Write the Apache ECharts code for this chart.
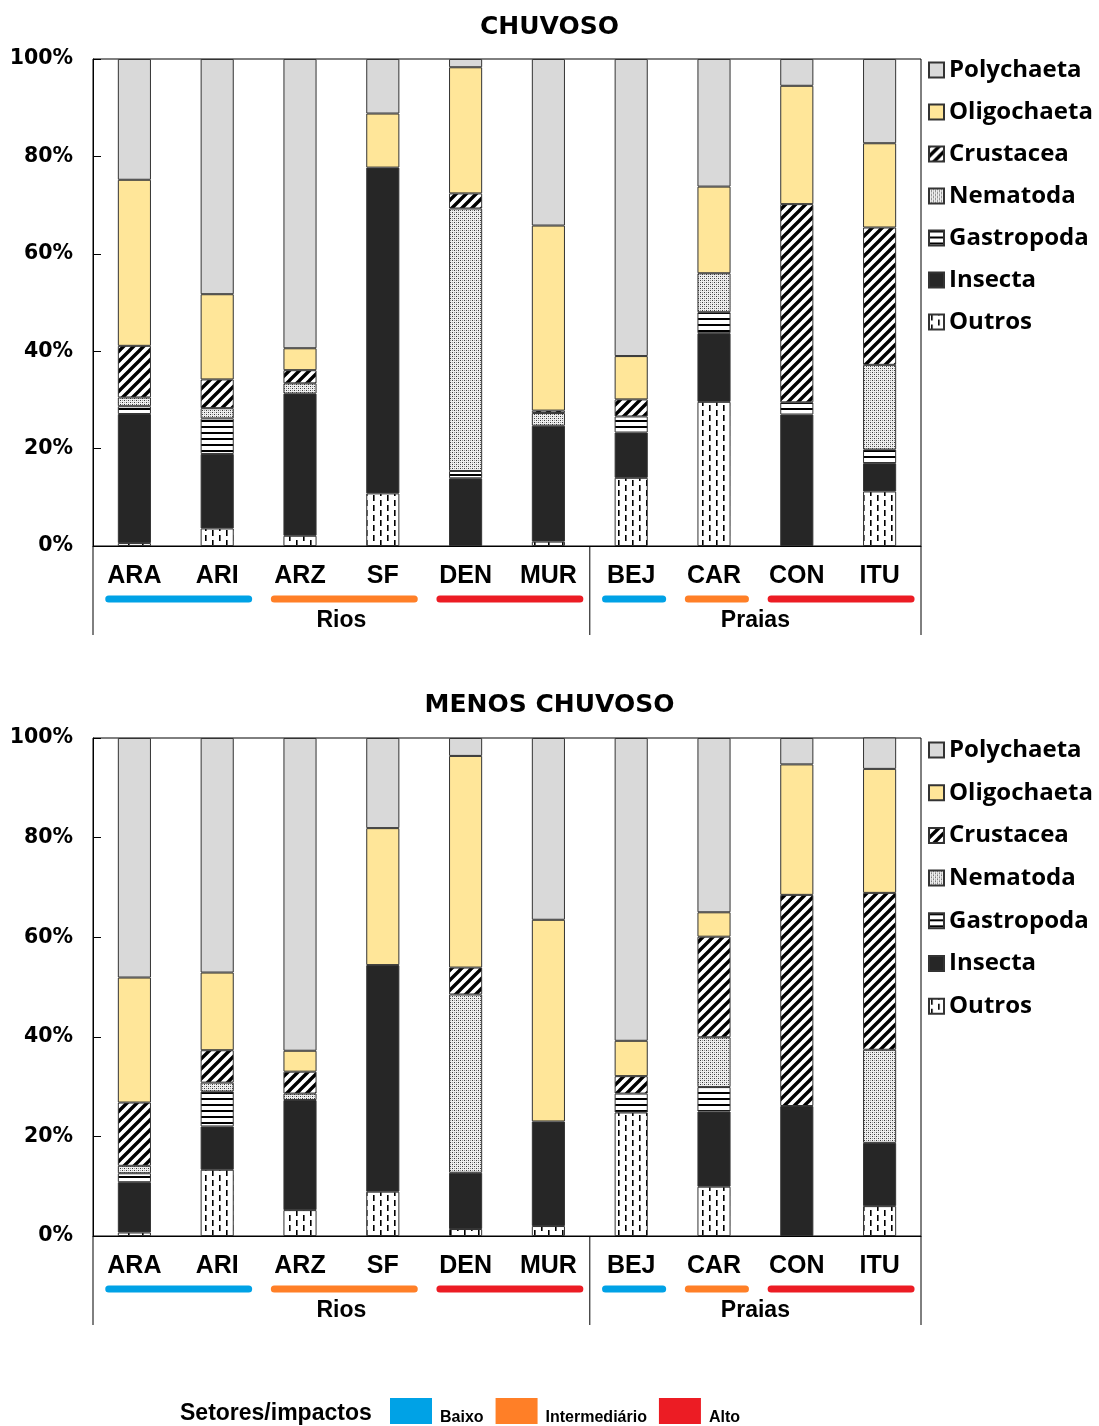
<!DOCTYPE html>
<html>
<head>
<meta charset="utf-8">
<script src="https://cdn.jsdelivr.net/npm/echarts@6/dist/echarts.min.js"></script>
<style>
  html, body { margin: 0; padding: 0; background: #fff; }
  #chart { width: 1099px; height: 1426px; }
</style>
</head>
<body>
<div id="chart"></div>
<script>
// Sampling sites (rivers first, then beaches)
const categories = ['ARA', 'ARI', 'ARZ', 'SF', 'DEN', 'MUR', 'BEJ', 'CAR', 'CON', 'ITU'];
// Taxa, in legend order (top of stack first)
const taxa = ['Polychaeta', 'Oligochaeta', 'Crustacea', 'Nematoda', 'Gastropoda', 'Insecta', 'Outros'];
const seasonTitles = ['CHUVOSO', 'MENOS CHUVOSO'];

// Relative abundance (%) - rainy season
const chuvosoOutros      = [0.6, 3.6, 2.1, 10.8, 0, 0.9, 14.0, 29.6, 0, 11.2];
const chuvosoInsecta     = [26.5, 15.3, 29.2, 66.9, 13.9, 23.8, 9.3, 14.1, 27.0, 5.8];
const chuvosoGastropoda  = [1.6, 7.3, 0, 0, 1.5, 0, 3.3, 4.3, 2.5, 2.8];
const chuvosoNematoda    = [1.8, 2.1, 2.1, 0, 53.9, 2.6, 0, 8.0, 0, 17.4];
const chuvosoCrustacea   = [10.6, 5.9, 2.7, 0, 3.1, 0.5, 3.5, 0, 40.7, 28.2];
const chuvosoOligochaeta = [34.1, 17.5, 4.5, 11.1, 25.9, 38.0, 8.9, 17.8, 24.3, 17.3];
const chuvosoPolychaeta  = [24.8, 48.3, 59.4, 11.2, 1.7, 34.2, 61.0, 26.2, 5.5, 17.3];

// Relative abundance (%) - less rainy season
const menosOutros      = [0.7, 13.3, 5.2, 8.9, 1.4, 2.0, 24.8, 9.9, 0, 6.0];
const menosInsecta     = [10.1, 8.7, 22.1, 45.5, 11.3, 21.0, 0, 15.1, 26.1, 12.7];
const menosGastropoda  = [1.8, 7.0, 0, 0, 0, 0, 3.8, 4.9, 0, 0];
const menosNematoda    = [1.5, 1.8, 1.3, 0, 35.8, 0, 0, 10.0, 0, 18.7];
const menosCrustacea   = [12.7, 6.5, 4.4, 0, 5.4, 0, 3.5, 20.2, 42.4, 31.5];
const menosOligochaeta = [25.1, 15.6, 4.2, 27.5, 42.5, 40.5, 7.1, 4.9, 26.2, 24.9];
const menosPolychaeta  = [48.1, 47.1, 62.8, 18.1, 3.6, 36.5, 60.8, 35.0, 5.3, 6.3];

// Sector / impact grouping of the sites
const impactLevels = ['Baixo', 'Intermediário', 'Alto'];
const impactColors = ['#00a2e6', '#ff7f27', '#ec1c24'];
const impactRuns = [[0, 1, 'Baixo'], [2, 3, 'Intermediário'], [4, 5, 'Alto'],
                    [6, 6, 'Baixo'], [7, 7, 'Intermediário'], [8, 9, 'Alto']];
const sectorGroups = [[0, 5, 'Rios'], [6, 9, 'Praias']];

const seasons = [
  { Polychaeta: chuvosoPolychaeta, Oligochaeta: chuvosoOligochaeta, Crustacea: chuvosoCrustacea,
    Nematoda: chuvosoNematoda, Gastropoda: chuvosoGastropoda, Insecta: chuvosoInsecta, Outros: chuvosoOutros },
  { Polychaeta: menosPolychaeta, Oligochaeta: menosOligochaeta, Crustacea: menosCrustacea,
    Nematoda: menosNematoda, Gastropoda: menosGastropoda, Insecta: menosInsecta, Outros: menosOutros }
];

// ---- fill patterns ----
function makePattern(w, h, draw) {
  const c = document.createElement('canvas');
  c.width = w; c.height = h;
  const g = c.getContext('2d');
  g.fillStyle = '#fff';
  g.fillRect(0, 0, w, h);
  draw(g, w, h);
  return { image: c, repeat: 'repeat' };
}
const fills = {
  Polychaeta: '#d9d9d9',
  Oligochaeta: '#ffe699',
  Crustacea: makePattern(10, 10, (g, w, h) => {
    g.strokeStyle = '#000'; g.lineWidth = 3.4; g.beginPath();
    for (let k = -1; k <= 1; k++) { g.moveTo(k * w - 1, h + 1); g.lineTo(k * w + w + 1, -1); }
    g.stroke();
  }),
  Nematoda: makePattern(4, 4, (g) => {
    g.fillStyle = '#efefef'; g.fillRect(0, 0, 4, 4);
    g.fillStyle = '#3a3a3a'; g.fillRect(0, 0, 1, 1); g.fillRect(2, 2, 1, 1);
    g.fillStyle = '#9a9a9a'; g.fillRect(2, 0, 1, 1); g.fillRect(0, 2, 1, 1);
  }),
  Gastropoda: makePattern(4, 6, (g) => {
    g.fillStyle = '#000'; g.fillRect(0, 0, 4, 2);
  }),
  Insecta: '#262626',
  // short vertical dashes in staggered columns
  Outros: makePattern(14, 10, (g) => {
    g.fillStyle = '#000';
    g.fillRect(2, 0, 1.6, 6);
    g.fillRect(9, 5, 1.6, 5);
    g.fillRect(9, 0, 1.6, 1);
  })
};

const grids = [
  { left: 93, top: 59, width: 828, height: 487 },
  { left: 93, top: 738, width: 828, height: 498 }
];

const series = [];
seasons.forEach((season, gi) => {
  // stacked from the bottom: Outros first
  taxa.slice().reverse().forEach(name => {
    series.push({
      name: name,
      type: 'bar',
      stack: 'season' + gi,
      xAxisIndex: gi,
      yAxisIndex: gi,
      barWidth: '40%',
      itemStyle: { color: fills[name], borderColor: '#333', borderWidth: 1 },
      emphasis: { disabled: true },
      data: season[name].map(v => (v === 0 ? null : v))
    });
  });

  // coloured impact underlines below the site labels
  impactLevels.forEach((level, li) => {
    series.push({
      name: level,
      type: 'custom',
      xAxisIndex: gi,
      yAxisIndex: gi,
      clip: false,
      silent: true,
      itemStyle: { color: impactColors[li] },
      encode: { x: [0, 1], y: 2 },
      data: impactRuns.filter(r => r[2] === level).map(r => [r[0], r[1], 0]),
      renderItem: (params, api) => {
        const a = api.coord([api.value(0), 0]);
        const b = api.coord([api.value(1), 0]);
        const band = api.size([1, 0])[0];
        const y = a[1] + 53;
        return {
          type: 'line',
          shape: { x1: a[0] - 0.31 * band, y1: y, x2: b[0] + 0.38 * band, y2: y },
          style: { stroke: impactColors[li], lineWidth: 7, lineCap: 'round' }
        };
      }
    });
  });

  // sector names and separators (Rios / Praias)
  series.push({
    name: 'setores',
    type: 'custom',
    xAxisIndex: gi,
    yAxisIndex: gi,
    clip: false,
    silent: true,
    encode: { x: [0, 1], y: 2 },
    data: sectorGroups.map(s => [s[0], s[1], 0]),
    renderItem: (params, api) => {
      const a = api.coord([api.value(0), 0]);
      const b = api.coord([api.value(1), 0]);
      const band = api.size([1, 0])[0];
      const left = a[0] - band / 2;
      const right = b[0] + band / 2;
      const y = a[1];
      const children = [
        { type: 'line', shape: { x1: left, y1: y, x2: left, y2: y + 89 }, style: { stroke: '#000', lineWidth: 1 } },
        { type: 'text', style: { text: sectorGroups[params.dataIndex][2], x: (left + right) / 2, y: y + 75,
            align: 'center', verticalAlign: 'middle', font: 'bold 23px "Liberation Sans", Arial, sans-serif', fill: '#000' } }
      ];
      if (params.dataIndex === sectorGroups.length - 1) {
        children.push({ type: 'line', shape: { x1: right, y1: y, x2: right, y2: y + 89 }, style: { stroke: '#000', lineWidth: 1 } });
      }
      return { type: 'group', children: children };
    }
  });
});

const taxaLegend = (top, gap) => ({
  data: taxa,
  orient: 'vertical',
  left: 928,
  top: top,
  padding: 0,
  icon: 'rect',
  itemWidth: 15,
  itemHeight: 15,
  itemGap: gap,
  selectedMode: false,
  textStyle: { fontFamily: '"Open Sans", sans-serif', fontWeight: 'bold', fontSize: 24, lineHeight: 23, color: '#000' }
});

const option = {
  animation: false,
  backgroundColor: '#fff',
  title: [
    { text: seasonTitles[0], left: 'center', top: 10,
      textStyle: { fontFamily: '"DejaVu Sans", sans-serif', fontWeight: 'bold', fontSize: 25, color: '#000' } },
    { text: seasonTitles[1], left: 'center', top: 688,
      textStyle: { fontFamily: '"DejaVu Sans", sans-serif', fontWeight: 'bold', fontSize: 25, color: '#000' } },
    { text: 'Setores/impactos', left: 175, top: 1397,
      textStyle: { fontFamily: '"Liberation Sans", Arial, sans-serif', fontWeight: 'bold', fontSize: 23, color: '#000' } }
  ],
  legend: [
    taxaLegend(58, 18),
    taxaLegend(738, 18.7),
    {
      data: impactLevels,
      orient: 'horizontal',
      left: 390,
      top: 1398,
      padding: 0,
      icon: 'rect',
      itemWidth: 42,
      itemHeight: 26,
      itemGap: 12,
      selectedMode: false,
      formatter: '{t|{name}}',
      textStyle: {
        color: '#000',
        rich: {
          t: { fontFamily: '"Liberation Sans", Arial, sans-serif', fontWeight: 'bold', fontSize: 16, color: '#000',
               padding: [14, 0, 0, 3] }
        }
      }
    }
  ],
  grid: grids.map(g => Object.assign({ show: true, borderColor: '#000', borderWidth: 1, backgroundColor: 'transparent' }, g)),
  xAxis: grids.map((g, i) => ({
    type: 'category',
    gridIndex: i,
    data: categories,
    axisLine: { show: true, lineStyle: { color: '#000', width: 1 } },
    axisTick: { show: false },
    axisLabel: { interval: 0, margin: 18, color: '#000', fontFamily: '"Liberation Sans", Arial, sans-serif',
                 fontWeight: 'bold', fontSize: 25 }
  })),
  yAxis: grids.map((g, i) => ({
    type: 'value',
    gridIndex: i,
    min: 0,
    max: 100,
    interval: 20,
    axisLine: { show: true, lineStyle: { color: '#000', width: 1 } },
    axisTick: { show: true, inside: true, length: 8, lineStyle: { color: '#000' } },
    splitLine: { show: false },
    axisLabel: { formatter: '{value}%', margin: 20, color: '#000', fontFamily: '"DejaVu Sans", sans-serif',
                 fontWeight: 'bold', fontSize: 20.5 }
  })),
  series: series
};

const chart = echarts.init(document.getElementById('chart'), null, { renderer: 'canvas' });
chart.setOption(option);
</script>
</body>
</html>
